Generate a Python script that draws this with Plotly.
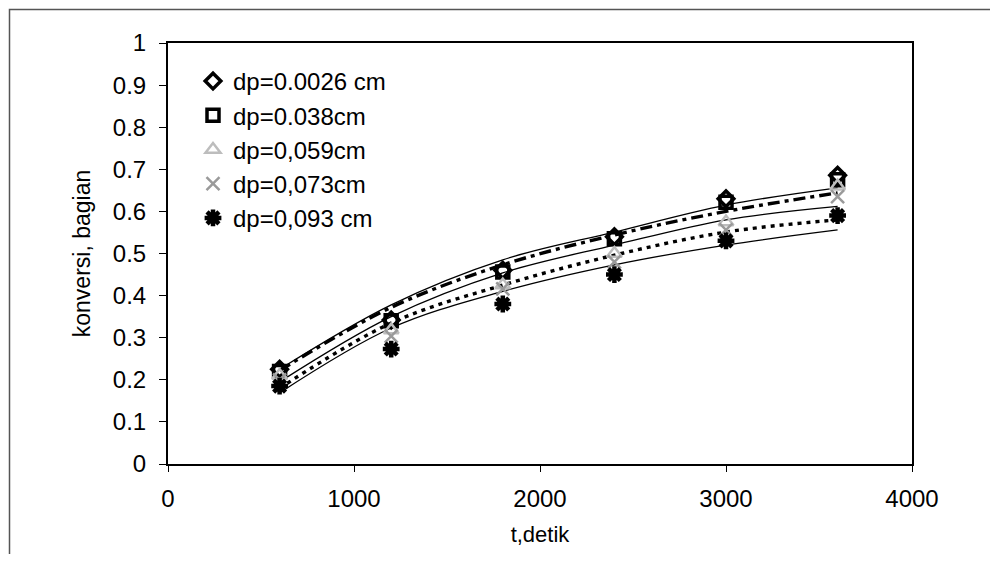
import plotly.graph_objects as go

# Data
t_detik = [600, 1200, 1800, 2400, 3000, 3600]
series_names = ["dp=0.0026 cm", "dp=0.038cm", "dp=0,059cm", "dp=0,073cm", "dp=0,093 cm"]

konv_0026 = [0.225, 0.342, 0.460, 0.540, 0.630, 0.686]
konv_038 = [0.220, 0.340, 0.456, 0.535, 0.622, 0.675]
konv_059 = [0.210, 0.318, 0.425, 0.500, 0.575, 0.660]
konv_073 = [0.200, 0.304, 0.416, 0.480, 0.556, 0.635]
konv_093 = [0.185, 0.273, 0.380, 0.450, 0.530, 0.590]

# Trend-line values at the same times
trend_0026 = [0.225, 0.378, 0.485, 0.551, 0.615, 0.656]
trend_038 = [0.222, 0.372, 0.473, 0.544, 0.600, 0.644]
trend_059 = [0.195, 0.350, 0.454, 0.520, 0.580, 0.612]
trend_073 = [0.180, 0.335, 0.425, 0.496, 0.551, 0.580]
trend_093 = [0.169, 0.323, 0.410, 0.473, 0.520, 0.556]

x_ticks = [0, 1000, 2000, 3000, 4000]
y_ticks = [0, 0.1, 0.2, 0.3, 0.4, 0.5, 0.6, 0.7, 0.8, 0.9, 1]
y_tick_labels = ["0", "0.1", "0.2", "0.3", "0.4", "0.5", "0.6", "0.7", "0.8", "0.9", "1"]

konv = [konv_0026, konv_038, konv_059, konv_073, konv_093]
trends = [trend_0026, trend_038, trend_059, trend_073, trend_093]

marker_styles = [
    dict(symbol="diamond-open", size=12, color="black", line=dict(color="black", width=3.5)),
    dict(symbol="square-open", size=12, color="black", line=dict(color="black", width=3.5)),
    dict(symbol="triangle-up-open", size=13, color="#bdbdbd", line=dict(color="#bdbdbd", width=2.5)),
    dict(symbol="x-thin-open", size=13, color="#9a9a9a", line=dict(color="#9a9a9a", width=2.5)),
    dict(symbol="asterisk-open", size=14, color="black", line=dict(color="black", width=4.5)),
]
line_styles = [
    dict(color="black", width=1.3, dash="solid"),
    dict(color="black", width=3.4, dash="12px,5px,4px,5px"),
    dict(color="black", width=1.3, dash="solid"),
    dict(color="black", width=3.4, dash="4px,5px"),
    dict(color="black", width=1.3, dash="solid"),
]

fig = go.Figure()
for name, vals, tr, ms, ls in zip(series_names, konv, trends, marker_styles, line_styles):
    fig.add_trace(go.Scatter(x=t_detik, y=tr, mode="lines", line=dict(shape="spline", smoothing=1.0, **ls),
                             showlegend=False, hoverinfo="skip"))
for i, (name, vals, ms) in enumerate(zip(series_names, konv, marker_styles)):
    fig.add_trace(go.Scatter(x=t_detik, y=vals, mode="markers", name=name, marker=ms,
                             legendgroup="g%d" % i))

font_family = "Liberation Sans, Arial, sans-serif"
OFF = 8  # default page body margin
W, H = 998 - 2 * OFF, 562 - 2 * OFF
L, R, T, B = 168 - OFF, 912 - OFF, 43 - OFF, 464 - OFF


def px_x(p):
    return (p - OFF - L) / (R - L)


def px_y(p):
    return (B - (p - OFF)) / (B - T)


fig.update_layout(
    width=W, height=H,
    margin=dict(l=L, r=W - R, t=T, b=H - B, pad=0),
    paper_bgcolor="white", plot_bgcolor="white",
    font=dict(family=font_family, color="black", size=22),
    xaxis=dict(range=[0, 4000], tickvals=x_ticks, ticks="outside", ticklen=6, tickwidth=1,
               tickcolor="black", showgrid=False, zeroline=False, showline=True, linecolor="black",
               linewidth=2, mirror=True, tickfont=dict(size=24), ticklabelstandoff=6,
               title=dict(text="t,detik", font=dict(size=22), standoff=16)),
    yaxis=dict(range=[0, 1], tickvals=y_ticks, ticktext=y_tick_labels, ticks="outside", ticklen=7,
               tickwidth=1, tickcolor="black", showgrid=False, zeroline=False, showline=True,
               linecolor="black", linewidth=2, mirror=True, tickfont=dict(size=24), ticklabelstandoff=8,
               title=dict(text="konversi, bagian", font=dict(size=23), standoff=16)),
    legend=dict(x=px_x(193), y=px_y(59), xanchor="left", yanchor="top", bgcolor="rgba(0,0,0,0)",
                font=dict(size=24), tracegroupgap=0, itemwidth=30),
    showlegend=True,
    shapes=[dict(type="rect", xref="paper", yref="paper", x0=px_x(9.5), x1=px_x(1010),
                 y0=px_y(575), y1=px_y(9.5), line=dict(color="#555555", width=1.5), layer="below")],
)

fig.write_html("out.html")
